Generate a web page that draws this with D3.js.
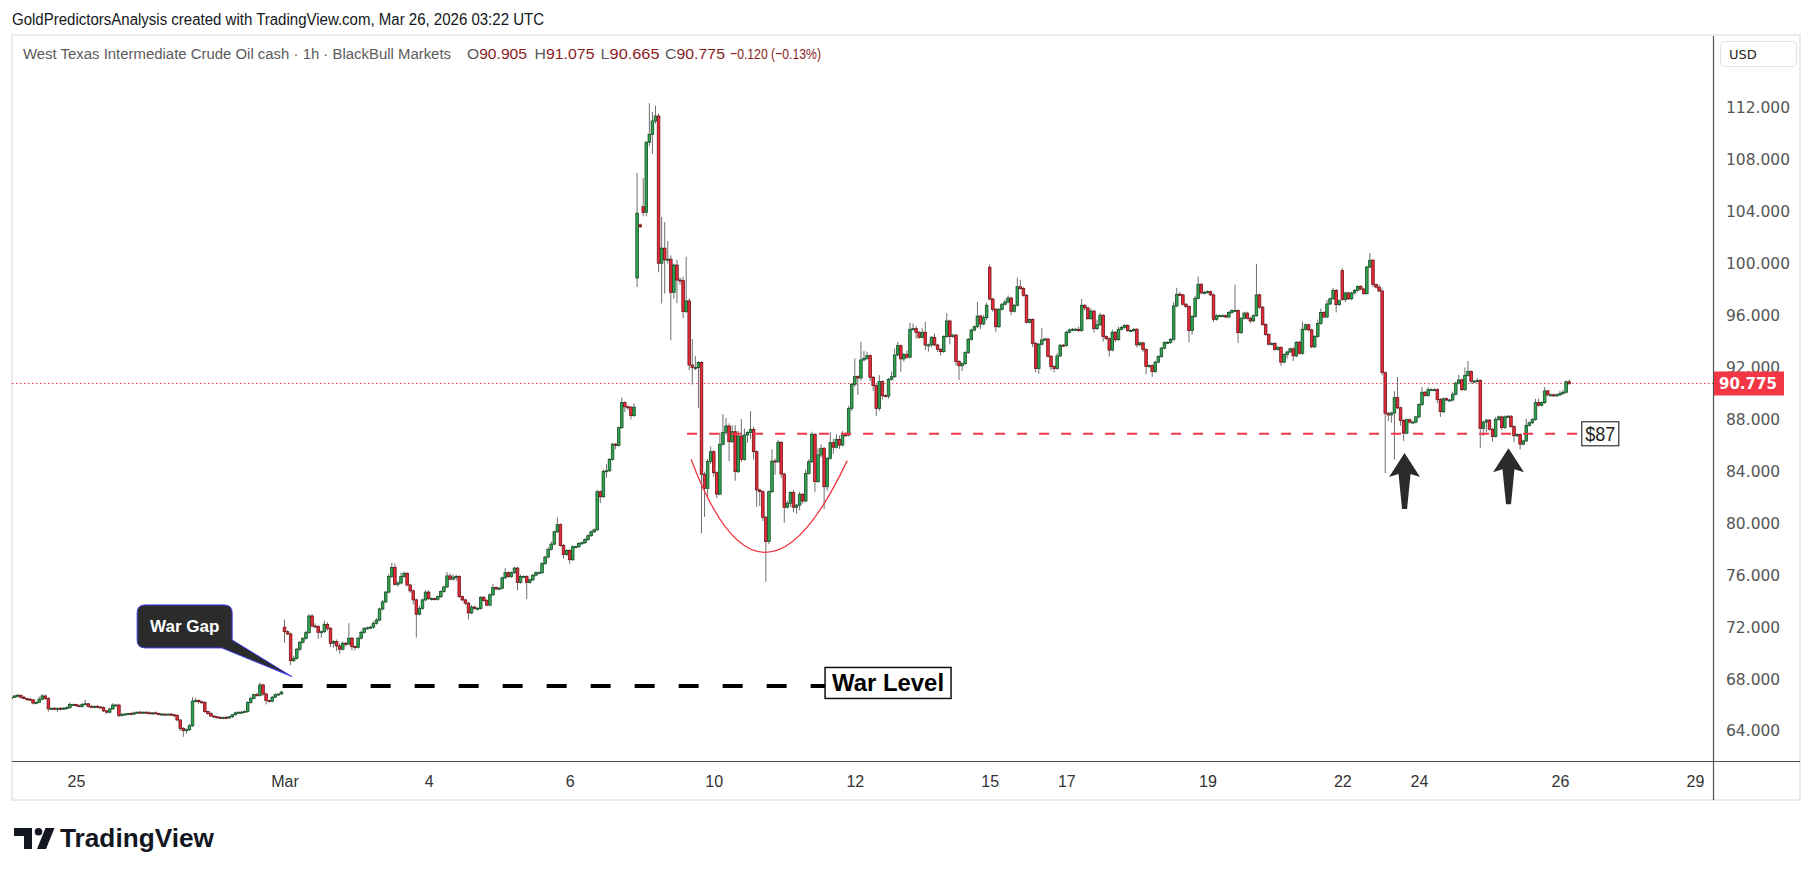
<!DOCTYPE html>
<html>
<head>
<meta charset="utf-8">
<script src="https://cdn.jsdelivr.net/npm/d3@7/dist/d3.min.js"></script>
<style>
  html, body { margin: 0; padding: 0; background: #ffffff; }
  svg { display: block; }
  .narrow { font-family: 'Liberation Sans Narrow', 'Liberation Sans', Arial, sans-serif; }
  .axis-text { font-family: 'DejaVu Sans', Verdana, sans-serif; }
</style>
</head>
<body>
<div id="chart"></div>
<script>
// Hourly candles, WTI cash. First candle is Feb 24 02:00 UTC, index -21.
// Index 0 is the first candle of Feb 25.
const firstIndex = -21

const closes = [
  // Feb 24
  66.6, 66.7, 66.75, 66.6, 66.5, 66.45, 66.4, 66.15, 66.2, 66.45, 66.7, 66.5, 65.7, 65.75, 65.7, 65.75, 65.7, 65.75, 65.8, 66.05, 66.05,
  // Feb 25
  65.95, 65.9, 66.05, 66.1, 65.9, 65.85, 65.9, 65.85, 65.8, 65.55, 65.45, 65.7, 66.0, 66.0, 65.2, 65.3, 65.3, 65.35, 65.3, 65.4, 65.45, 65.4, 65.45,
  // Feb 26
  65.4, 65.35, 65.4, 65.35, 65.3, 65.3, 65.28, 65.3, 65.25, 65.2, 64.85, 64.2, 64.05, 64.1, 64.4, 66.3, 66.35, 66.25, 66.2, 65.5, 65.35, 65.15, 65.1,
  // Feb 27
  65.05, 65.0, 65.05, 65.0, 65.1, 65.25, 65.4, 65.45, 65.45, 65.5, 66.2, 66.5, 66.8, 66.75, 67.55, 66.85, 66.35, 66.3, 66.6, 66.8, 66.85, 67.0,
  // Mar 1 (Sunday open)
  71.65,
  // Mar 2
  71.48, 69.42, 69.6, 70.3, 70.84, 71.14, 71.58, 72.86, 72.09, 72.05, 71.6, 71.65, 72.22, 71.91, 70.76, 70.9, 70.55, 70.3, 70.76, 70.7, 71.15, 70.5, 70.45,
  // Mar 3
  71.15, 71.6, 71.9, 71.95, 72.0, 72.3, 72.55, 73.4, 73.95, 74.7, 75.9, 76.6, 75.3, 75.4, 75.9, 76.15, 75.25, 74.8, 74.1, 73.0, 73.45, 74.1, 74.7,
  // Mar 4
  74.2, 74.2, 74.15, 74.35, 74.75, 75.1, 75.95, 75.7, 75.85, 75.9, 74.35, 74.1, 73.85, 73.1, 73.55, 73.45, 73.45, 74.3, 74.05, 73.7, 74.5, 75.05, 74.95,
  // Mar 5
  75.0, 75.8, 76.2, 75.9, 76.2, 76.55, 75.45, 75.9, 75.9, 75.45, 75.65, 76.0, 76.2, 76.2, 76.9, 77.4, 78.0, 78.4, 79.35, 79.9, 78.3, 77.6, 77.9,
  // Mar 6
  77.2, 78.2, 78.2, 78.45, 78.5, 78.75, 79.05, 79.35, 79.5, 82.44, 82.05, 84.0, 84.05, 84.93, 86.1, 86.0, 87.37, 89.3, 88.98, 88.95, 88.3, 88.95,
  // Mar 8 (Sunday open)
  103.9, 102.85,
  // Mar 9
  103.96, 109.36, 109.97, 111.0, 111.38, 100.04, 101.2, 100.3, 100.35, 97.8, 99.9, 98.75, 98.7, 96.31, 97.14, 92.2, 92.0, 92.0, 92.4, 83.78, 82.7, 84.78, 85.52,
  // Mar 10
  83.9, 82.25, 86.09, 87.01, 87.5, 86.29, 87.06, 83.98, 86.73, 84.93, 86.81, 87.0, 87.24, 85.52, 82.57, 82.44, 80.47, 78.6, 82.44, 84.8, 84.75, 86.24, 83.8,
  // Mar 11
  81.24, 81.55, 82.37, 81.24, 81.4, 82.24, 81.72, 83.85, 84.75, 86.86, 83.21, 85.27, 85.78, 82.82, 85.01, 86.22, 85.86, 86.47, 86.03, 86.81, 86.8, 88.86, 90.71,
  // Mar 12
  91.3, 91.2, 92.59, 92.7, 92.92, 91.25, 90.61, 88.86, 90.92, 89.84, 89.8, 91.1, 91.3, 92.97, 93.69, 92.67, 93.02, 92.8, 94.95, 95.0, 94.72, 94.33, 94.72,
  // Mar 13
  93.74, 93.75, 94.33, 93.74, 93.41, 93.23, 94.39, 95.59, 94.39, 94.5, 92.47, 92.14, 92.3, 93.15, 94.18, 94.89, 95.15, 95.97, 95.36, 95.85, 96.8,
  // Mar 15 (Sunday open)
  97.28, 96.49,
  // Mar 16
  95.15, 96.49, 96.88, 97.05, 97.36, 96.34, 96.8, 98.23, 98.1, 97.57, 95.49, 95.7, 93.87, 91.93, 93.8, 94.13, 94.2, 92.87, 92.08, 91.93, 92.9, 93.72, 93.7,
  // Mar 17
  94.72, 94.9, 94.95, 94.95, 94.85, 96.8, 96.6, 95.77, 96.35, 95.0, 95.3, 96.03, 94.39, 94.23, 93.35, 94.72, 94.15, 94.95, 95.1, 95.25, 94.85, 94.85, 94.95,
  // Mar 18
  93.75, 93.9, 93.4, 92.08, 92.15, 91.69, 92.42, 92.85, 93.5, 93.93, 93.93, 94.18, 96.75, 97.65, 97.6, 96.88, 96.7, 94.85, 95.94, 97.34, 98.42, 97.75, 97.8,
  // Mar 19
  97.85, 97.6, 95.72, 96.0, 96.0, 96.0, 95.9, 96.25, 96.4, 96.4, 94.69, 95.8, 96.2, 95.8, 95.6, 96.0, 97.6, 96.65, 95.32, 94.55, 93.8, 93.85, 93.4,
  // Mar 20
  93.55, 92.42, 93.0, 93.2, 93.45, 92.9, 93.95, 93.1, 94.95, 95.3, 94.9, 93.6, 94.4, 95.4, 96.25, 95.9, 96.9, 97.3, 97.95, 96.85, 97.15,
  // Mar 22 (Sunday open)
  97.25, 97.75,
  // Mar 23
  97.3, 97.75, 97.95, 98.25, 98.05, 97.7, 99.75, 100.27, 98.4, 98.2, 97.9, 91.61, 88.48, 88.35, 88.5, 89.68, 88.9, 87.93, 86.95, 87.98, 87.8, 87.8, 88.2,
  // Mar 24
  89.15, 90.1, 89.85, 90.3, 90.3, 90.3, 89.55, 88.6, 89.6, 89.5, 89.5, 89.95, 90.8, 91.05, 90.3, 91.4, 91.7, 90.95, 90.95, 91.0, 87.32, 87.8, 87.95,
  // Mar 25
  87.25, 86.7, 88.0, 88.2, 87.38, 88.2, 88.25, 87.45, 86.75, 86.85, 86.1, 86.35, 87.55, 87.75, 88.0, 89.3, 89.1, 89.3, 90.2, 89.9, 89.9, 89.85, 89.9,
  // Mar 26
  90.0, 90.1, 90.905, 90.775
]

// Wick length above the body, in dollars
const wickUp = [
  .1, .1, .1, .05, .1, .05, .1, .05, .1, .2, .15, .1, .1, .05, .1, .05, .1, .1, .1, .15, .05,
  .05, .1, .1, .3, .05, .1, .05, .1, .05, .1, .05, .1, .15, .1, .1, .05, .1, .05, .1, .1, .05, .1, .05,
  .05, .1, .05, .1, .05, .1, .05, .05, .1, .05, .1, .05, .1, .1, .15, .3, .2, .1, .1, .1, .05, .1, .05,
  .05, .1, .05, .1, .05, .05, .1, .05, .1, .1, .1, .15, .1, .15, .2, .1, .1, .05, .1, .1, .05, .1,
  .6,
  .1, .1, .2, .1, .1, .1, .15, .15, .15, .2, .1, .1, .3, .15, .1, .1, .15, .2, .15, .1, 1.15, .1, .1,
  .1, .15, .1, .1, .1, .15, .15, .1, .15, .1, .2, .35, .3, .15, .3, .15, .1, .1, .1, .1, .2, .1, .15,
  .15, .1, .1, .1, .1, .1, .3, .2, .2, .15, .1, .1, .1, .1, .15, .1, .1, .1, .1, .1, .1, .3, .1,
  .1, .1, .35, .1, .1, .1, .1, .15, .1, .1, .1, .1, .1, .1, .1, .1, .15, .2, .1, .55, .1, .1, .1,
  .1, .1, .1, .1, .1, .1, .1, .1, .1, .15, .1, .15, .5, .1, .1, .1, .1, .4, .1, .1, .1, .3,
  3.1, .1,
  2.2, .1, 2.4, .7, .8, .2, 2.4, 2.0, 1.4, .3, .1, .4, .2, .3, 3.4, .2, 2.0, .9, .1, .1, .2, .2, .4,
  .1, .1, .9, 1.4, .6, .2, .5, .5, .4, 1.3, .5, .1, 1.4, .2, .1, .1, .1, .1, .1, .9, .2, .2, .1,
  .1, .2, .1, .2, .1, .2, .1, .3, .2, .2, .1, .5, .3, .1, .1, .8, .3, .4, .3, .3, .2, .2, .1,
  1.4, .1, 1.4, .6, .3, .1, .1, .1, .5, .1, .1, .1, .4, .5, .3, .1, .1, .3, .5, .4, .2, .1, .3,
  .8, .1, .1, .3, .1, .1, .1, .6, .1, .1, .1, .1, .1, .1, .1, .1, .1, 1.1, .1, .2, .2,
  .2, .1,
  .1, .1, .1, .2, .2, .1, .1, .7, .5, .1, .1, .1, .1, .1, .1, .9, .1, .1, .1, .1, .2, .1, .1,
  .1, .1, .1, .1, .2, .5, .1, .1, .2, .1, .4, .2, .1, .1, .1, .2, .1, .2, .1, .1, .1, .1, .1,
  .1, .1, .1, .1, .1, .1, .1, .1, .1, .1, .1, .1, .3, .5, .2, .1, .1, .1, .1, .2, .6, .1, .1,
  .1, .1, .1, .1, .1, .1, .1, .1, .1, 2.0, .1, .1, .1, .1, .1, .1, 2.4, .1, .1, .1, .1, .1, .1,
  .1, .1, .1, .1, .1, .1, .1, .1, .6, .1, .1, .1, .1, .3, .3, .1, .3, .1, .2, .1, .1,
  .2, .1,
  .1, .1, .1, .1, .1, .1, .1, .55, .1, .1, .2, .2, .1, .1, .1, .5, 1.6, .1, .1, .1, .1, .1, .1,
  .1, .4, .1, .2, .1, .1, .1, .1, .1, .1, .1, .2, .1, .4, .1, .6, .8, .1, .1, .2, .1, .1, .1,
  .1, .1, .2, .1, .1, .1, .1, .1, .1, .1, .1, .1, .5, .1, .1, .3, .3, .1, .3, .1, .1, .1, .1,
  .2, .2, .1, .17
]

// Wick length below the body, in dollars
const wickDn = [
  .1, .05, .1, .1, .05, .15, .1, .1, .1, .05, .1, .1, .2, .1, .05, .25, .1, .05, .1, .1, .1,
  .1, .05, .1, .05, .1, .05, .1, .1, .05, .1, .15, .1, .05, .1, .15, .1, .05, .1, .1, .05, .1, .05, .1,
  .1, .05, .1, .05, .1, .05, .1, .05, .05, .1, .1, .2, .5, .25, .1, .1, .1, .15, .1, .1, .1, .05, .1,
  .1, .05, .1, .1, .05, .1, .05, .1, .05, .05, .1, .1, .05, .1, .1, .15, .3, .1, .1, .05, .1, .05,
  .85,
  .1, .35, .1, .1, .15, .1, .1, .1, .1, .1, .5, .4, .1, .2, .3, .35, .4, .35, .1, .2, .1, .3, .25,
  .1, .1, .1, .1, .1, .1, .1, .1, .1, .1, .1, .1, .1, .2, .1, .1, .1, .15, .35, 1.8, .1, .1, .1,
  .1, .15, .1, .1, .1, .1, .1, .1, .1, .3, .1, .1, .15, .5, .1, .1, .15, .1, .1, .1, .1, .1, .1,
  .1, .1, .1, .1, .1, .1, .6, .1, .1, 1.3, .1, .1, .1, .1, .1, .1, .1, .1, .1, .1, .1, .3, .1,
  .3, .1, .1, .1, .1, .1, .1, .1, .1, .1, .5, .1, .5, .1, .1, .3, .1, .1, .4, .2, .3, .1,
  .7, .1,
  .3, .3, .3, 1.5, .2, .7, 3.1, 2.6, .3, 3.7, .5, 1.8, .3, .5, .1, .4, 1.3, .2, 3.1, 4.55, 2.2, .7, .2,
  .3, .3, .1, .1, .2, 1.5, .1, .7, .1, .2, .1, .6, .5, .6, 1.3, 1.1, .3, 3.1, .2, .1, 1.0, .1, .3,
  1.2, .1, .3, .4, .5, .4, .2, .1, .1, .1, .8, .1, .2, 1.7, .3, .1, .5, .1, .3, .1, .1, .1, .2,
  .2, 1.3, .2, .1, .1, .3, .4, .6, .2, .3, .1, .2, .1, .1, .1, 1.0, .2, .1, .1, .1, .5, .1, .1,
  .4, .5, .2, .1, .2, .3, .1, .1, .6, .1, .3, 1.1, .4, .1, .1, .1, .1, .1, .4, .1, .2,
  .1, .2,
  .4, .1, .1, .1, .1, .3, .1, .1, .1, .1, .1, .1, .3, .3, .4, .1, .1, .1, .3, .3, .1, .1, .1,
  .1, .1, .1, .1, .1, .1, .2, .1, .1, .3, .1, .1, .4, .1, .5, .1, .2, .1, .1, .1, .1, .1, .1,
  .2, .1, .2, .6, .1, .4, .1, .1, .1, .1, .1, .1, .1, .1, .1, .1, .1, .9, .3, .1, .1, .1, .1,
  .1, .1, .2, .1, .1, .1, .1, .1, .1, .1, .8, .1, .1, .1, .2, .1, .1, .1, .1, .1, .1, .1, .1,
  .1, .3, .1, .3, .1, .4, .1, .1, .1, .1, .1, .1, .1, .1, .1, .1, .1, .1, .1, .6, .1,
  .1, .2,
  .1, .1, .1, .1, .1, .1, .1, .1, .2, .1, .1, .2, 4.6, .5, .6, 3.6, .1, .4, .6, .1, .1, .1, .1,
  .1, .1, .1, .1, .1, .1, .3, .4, .1, .1, .1, .1, .1, .1, .1, .1, .1, .2, .1, .1, 1.5, .6, .8,
  .1, .4, .1, .1, .2, .1, .1, .1, .5, .1, .4, .1, .1, .1, .1, .1, .1, .1, .1, .1, .1, .1, .1,
  .1, .1, .1, .11
]

// Candles whose open is not the previous close (session gaps)
const gapOpens = { '-21': 66.55, 68: 72.0, 183: 98.9, 184: 103.0, 185: 104.4, 298: 99.73, 413: 99.47 }

// Time axis: candle index of each label
const tickIndex = [0, 68, 115, 161, 208, 254, 298, 323, 369, 413, 438, 484, 528]
const tickLabels = ['25', 'Mar', '4', '6', '10', '12', '15', '17', '19', '22', '24', '26', '29']

const priceTicks = [64, 68, 72, 76, 80, 84, 88, 92, 96, 100, 104, 108, 112]
const lastPrice = 90.775

// Drawings on the chart (index, price)
const warLevel = { from: 67.4, to: 244.3, price: 67.47, label: 'War Level' }
const supportLevel = { from: 199.3, to: 489.8, price: 86.9, label: '$87' }
const bowl = [{ i: 200.6, p: 84.94 }, { i: 224.7, p: 77.76 }, { i: 251.5, p: 84.83 }]
const arrows = [{ i: 433.3, p: 85.42 }, { i: 467.2, p: 85.78 }]
const warGap = { i: 70.4, p: 68.19, label: 'War Gap' }

const headerTitle = 'GoldPredictorsAnalysis created with TradingView.com, Mar 26, 2026 03:22 UTC'
const symbolTitle = 'West Texas Intermediate Crude Oil cash · 1h · BlackBull Markets'
const ohlcLabels = ['O', 'H', 'L', 'C', '']
const ohlcValues = ['90.905', '91.075', '90.665', '90.775', '−0.120 (−0.13%)']

//===========================================================================

const width = 1814
const height = 877
const plot = { left: 12, right: 1713, top: 36, bottom: 761 }

const svg = d3.select('#chart')
  .append('svg')
  .attr('width', width)
  .attr('height', height)

svg.append('rect')
  .attr('width', width)
  .attr('height', height)
  .attr('fill', '#ffffff')

// Scales - index to x, price to y
const xScale = d3.scaleLinear().domain([0, 484]).range([76, 1560])
const yScale = d3.scaleLinear().domain([64, 112]).range([731, 108])

//===========================================================================

// Build candles
const candles = closes.map((c, k) => {
  const i = firstIndex + k
  const o = gapOpens[i] !== undefined ? gapOpens[i] : closes[k - 1]
  return {
    i, o, c,
    h: Math.max(o, c) + wickUp[k],
    l: Math.min(o, c) - wickDn[k]
  }
})

// Chart frame
svg.append('rect')
  .attr('x', 12)
  .attr('y', 35)
  .attr('width', 1788)
  .attr('height', 765)
  .attr('fill', 'none')
  .attr('stroke', '#ebebeb')
  .attr('stroke-width', 2)

svg.append('clipPath')
  .attr('id', 'plot_clip')
  .append('rect')
  .attr('x', plot.left)
  .attr('y', plot.top)
  .attr('width', plot.right - plot.left)
  .attr('height', plot.bottom - plot.top)

const g = svg.append('g').attr('clip-path', 'url(#plot_clip)')

// Last price dotted line
g.append('line')
  .attr('x1', plot.left)
  .attr('x2', plot.right)
  .attr('y1', yScale(lastPrice))
  .attr('y2', yScale(lastPrice))
  .attr('stroke', '#f23645')
  .attr('stroke-width', 1)
  .attr('stroke-dasharray', '1.5,2.5')

// Wicks
g.append('g')
  .selectAll('line')
  .data(candles)
  .join('line')
  .attr('x1', d => xScale(d.i))
  .attr('x2', d => xScale(d.i))
  .attr('y1', d => yScale(d.h))
  .attr('y2', d => yScale(d.l))
  .attr('stroke', '#6f6f6f')
  .attr('stroke-width', 1)

// Bodies
g.append('g')
  .selectAll('rect')
  .data(candles)
  .join('rect')
  .attr('x', d => xScale(d.i) - 1.3)
  .attr('width', 2.6)
  .attr('y', d => yScale(Math.max(d.o, d.c)))
  .attr('height', d => Math.max(1, Math.abs(yScale(d.o) - yScale(d.c))))
  .attr('fill', d => d.c >= d.o ? '#2ea44f' : '#ea2a3c')
  .attr('stroke', d => d.c >= d.o ? '#1a4d28' : '#6d1515')
  .attr('stroke-width', 0.8)

//===========================================================================
// Drawings

// $87 support dashed line
g.append('line')
  .attr('x1', xScale(supportLevel.from))
  .attr('x2', xScale(supportLevel.to))
  .attr('y1', yScale(supportLevel.price))
  .attr('y2', yScale(supportLevel.price))
  .attr('stroke', '#f23645')
  .attr('stroke-width', 2)
  .attr('stroke-dasharray', '10,12')

// Rounded bottom arc
const [b0, b1, b2] = bowl.map(d => [xScale(d.i), yScale(d.p)])
const ctrl = [2 * b1[0] - (b0[0] + b2[0]) / 2, 2 * b1[1] - (b0[1] + b2[1]) / 2]
const bowlPath = d3.path()
bowlPath.moveTo(b0[0], b0[1])
bowlPath.quadraticCurveTo(ctrl[0], ctrl[1], b2[0], b2[1])
g.append('path')
  .attr('d', bowlPath.toString())
  .attr('fill', 'none')
  .attr('stroke', '#f23645')
  .attr('stroke-width', 1.3)

// War level dashed line
g.append('line')
  .attr('x1', xScale(warLevel.from))
  .attr('x2', xScale(warLevel.to))
  .attr('y1', yScale(warLevel.price))
  .attr('y2', yScale(warLevel.price))
  .attr('stroke', '#000000')
  .attr('stroke-width', 4)
  .attr('stroke-dasharray', '20,24')

// War level label box
const wlx = xScale(warLevel.to)
const wly = yScale(warLevel.price)
g.append('rect')
  .attr('x', wlx)
  .attr('y', wly - 18.5)
  .attr('width', 126)
  .attr('height', 31)
  .attr('fill', '#ffffff')
  .attr('stroke', '#111111')
  .attr('stroke-width', 1.5)
g.append('text')
  .attr('class', 'narrow')
  .attr('x', wlx + 63)
  .attr('y', wly + 5)
  .attr('text-anchor', 'middle')
  .attr('font-size', 24)
  .attr('font-weight', 'bold')
  .attr('fill', '#000000')
  .attr('textLength', 112)
  .attr('lengthAdjust', 'spacingAndGlyphs')
  .text(warLevel.label)

// $87 label box
const slx = xScale(supportLevel.to) + 4
const sly = yScale(supportLevel.price)
g.append('rect')
  .attr('x', slx)
  .attr('y', sly - 12)
  .attr('width', 37)
  .attr('height', 24)
  .attr('fill', '#ffffff')
  .attr('stroke', '#333333')
  .attr('stroke-width', 1.2)
g.append('text')
  .attr('class', 'narrow')
  .attr('x', slx + 18.5)
  .attr('y', sly + 7.5)
  .attr('text-anchor', 'middle')
  .attr('font-size', 21)
  .attr('fill', '#222222')
  .attr('textLength', 30)
  .attr('lengthAdjust', 'spacingAndGlyphs')
  .text(supportLevel.label)

// Up arrows
const arrowShape = 'M0,0 L15.5,24 L6,21 L2.5,56 L-2.5,56 L-6,21 L-15.5,24 Z'
g.append('g')
  .selectAll('path')
  .data(arrows)
  .join('path')
  .attr('transform', d => `translate(${xScale(d.i)},${yScale(d.p)})`)
  .attr('d', arrowShape)
  .attr('fill', '#2b2b2b')

// War Gap callout (box with tail pointing at the gap)
const tipX = xScale(warGap.i)
const tipY = yScale(warGap.p)
const L = -154.7, R = -59.7, T = -71.7, B = -28.7, r = 8
const callout = `M${L + r},${T} H${R - r} Q${R},${T} ${R},${T + r} V-36.7 L0,0 L-70,${B} H${L + r} Q${L},${B} ${L},${B - r} V${T + r} Q${L},${T} ${L + r},${T} Z`
const cg = svg.append('g').attr('transform', `translate(${tipX},${tipY})`)
cg.append('path')
  .attr('d', callout)
  .attr('fill', '#2b2b2b')
  .attr('stroke', '#3c3cf0')
  .attr('stroke-width', 1)
cg.append('text')
  .attr('x', (L + R) / 2)
  .attr('y', (T + B) / 2 + 6)
  .attr('text-anchor', 'middle')
  .attr('font-family', "'Liberation Sans', Arial, sans-serif")
  .attr('font-weight', 'bold')
  .attr('font-size', 17)
  .attr('fill', '#ffffff')
  .text(warGap.label)

//===========================================================================
// Axes

// Axis borders
svg.append('line')
  .attr('x1', 12).attr('x2', 1800)
  .attr('y1', plot.bottom + 0.5).attr('y2', plot.bottom + 0.5)
  .attr('stroke', '#505050')
  .attr('stroke-width', 1.2)
svg.append('line')
  .attr('x1', plot.right + 0.5).attr('x2', plot.right + 0.5)
  .attr('y1', 36).attr('y2', 800)
  .attr('stroke', '#505050')
  .attr('stroke-width', 1.2)

// Bottom axis - dates
const xAxisCall = d3.axisBottom(xScale)
  .tickValues(tickIndex)
  .tickFormat((d, k) => tickLabels[k])
  .tickSize(0)
  .tickPadding(0)

svg.append('g')
  .attr('class', 'x axis')
  .attr('transform', `translate(0, ${plot.bottom})`)
  .call(xAxisCall)
  .call(s => s.select('.domain').remove())
  .selectAll('text')
  .attr('class', 'narrow')
  .attr('dy', 0)
  .attr('y', 26)
  .attr('font-size', 16)
  .attr('fill', '#333333')

// Right axis - price
const yAxisCall = d3.axisRight(yScale)
  .tickValues(priceTicks)
  .tickFormat(d3.format('.3f'))
  .tickSize(0)
  .tickPadding(0)

svg.append('g')
  .attr('class', 'y axis')
  .attr('transform', `translate(1726, 0)`)
  .call(yAxisCall)
  .call(s => s.select('.domain').remove())
  .selectAll('text')
  .attr('class', 'axis-text')
  .attr('font-size', 15.5)
  .attr('fill', '#555555')

// Last price tag
svg.append('rect')
  .attr('x', plot.right + 1)
  .attr('y', yScale(lastPrice) - 12)
  .attr('width', 70)
  .attr('height', 24)
  .attr('fill', '#f23645')
svg.append('text')
  .attr('class', 'axis-text')
  .attr('x', 1719)
  .attr('y', yScale(lastPrice) + 5.5)
  .attr('font-size', 15)
  .attr('font-weight', 'bold')
  .attr('fill', '#ffffff')
  .text(d3.format('.3f')(lastPrice))

// Currency box
svg.append('rect')
  .attr('x', 1720.5)
  .attr('y', 41.5)
  .attr('width', 76)
  .attr('height', 25)
  .attr('rx', 4)
  .attr('fill', '#ffffff')
  .attr('stroke', '#e3e3e3')
svg.append('text')
  .attr('class', 'axis-text')
  .attr('x', 1729)
  .attr('y', 59)
  .attr('font-size', 13)
  .attr('fill', '#222222')
  .text('USD')

//===========================================================================
// Header texts

svg.append('text')
  .attr('class', 'narrow')
  .attr('x', 12)
  .attr('y', 25)
  .attr('font-size', 16)
  .attr('fill', '#131722')
  .attr('textLength', 532)
  .attr('lengthAdjust', 'spacingAndGlyphs')
  .text(headerTitle)

svg.append('text')
  .attr('class', 'narrow')
  .attr('x', 23)
  .attr('y', 58.5)
  .attr('font-size', 15.5)
  .attr('fill', '#5b5b5b')
  .attr('textLength', 428)
  .attr('lengthAdjust', 'spacingAndGlyphs')
  .text(symbolTitle)

// OHLC readout, each piece fitted to its width in the original
const ohlcX = [467, 534.5, 600.5, 665, 730]
const ohlcW = [60, 60, 59, 60, 91]
const ohlcRow = svg.append('g').attr('class', 'narrow').attr('font-size', 15.5)
ohlcValues.forEach((v, k) => {
  const t = ohlcRow.append('text')
    .attr('x', ohlcX[k])
    .attr('y', 58.5)
    .attr('textLength', ohlcW[k])
    .attr('lengthAdjust', 'spacingAndGlyphs')
  t.append('tspan').attr('fill', '#5b5b5b').text(ohlcLabels[k])
  t.append('tspan').attr('fill', '#8a1c1c').text(v)
})

// TradingView logo
const logo = svg.append('g').attr('fill', '#131722')
logo.append('path').attr('d', 'M14,828 H32 V849 H24 V836 H14 Z')
logo.append('circle').attr('cx', 38.5).attr('cy', 831.8).attr('r', 3.8)
logo.append('path').attr('d', 'M45.5,828 H54.5 L46,849 H37 Z')
logo.append('text')
  .attr('x', 60)
  .attr('y', 847)
  .attr('font-family', "'Liberation Sans', Arial, sans-serif")
  .attr('font-weight', 'bold')
  .attr('font-size', 25)
  .attr('textLength', 154)
  .attr('lengthAdjust', 'spacingAndGlyphs')
  .text('TradingView')
</script>
</body>
</html>
